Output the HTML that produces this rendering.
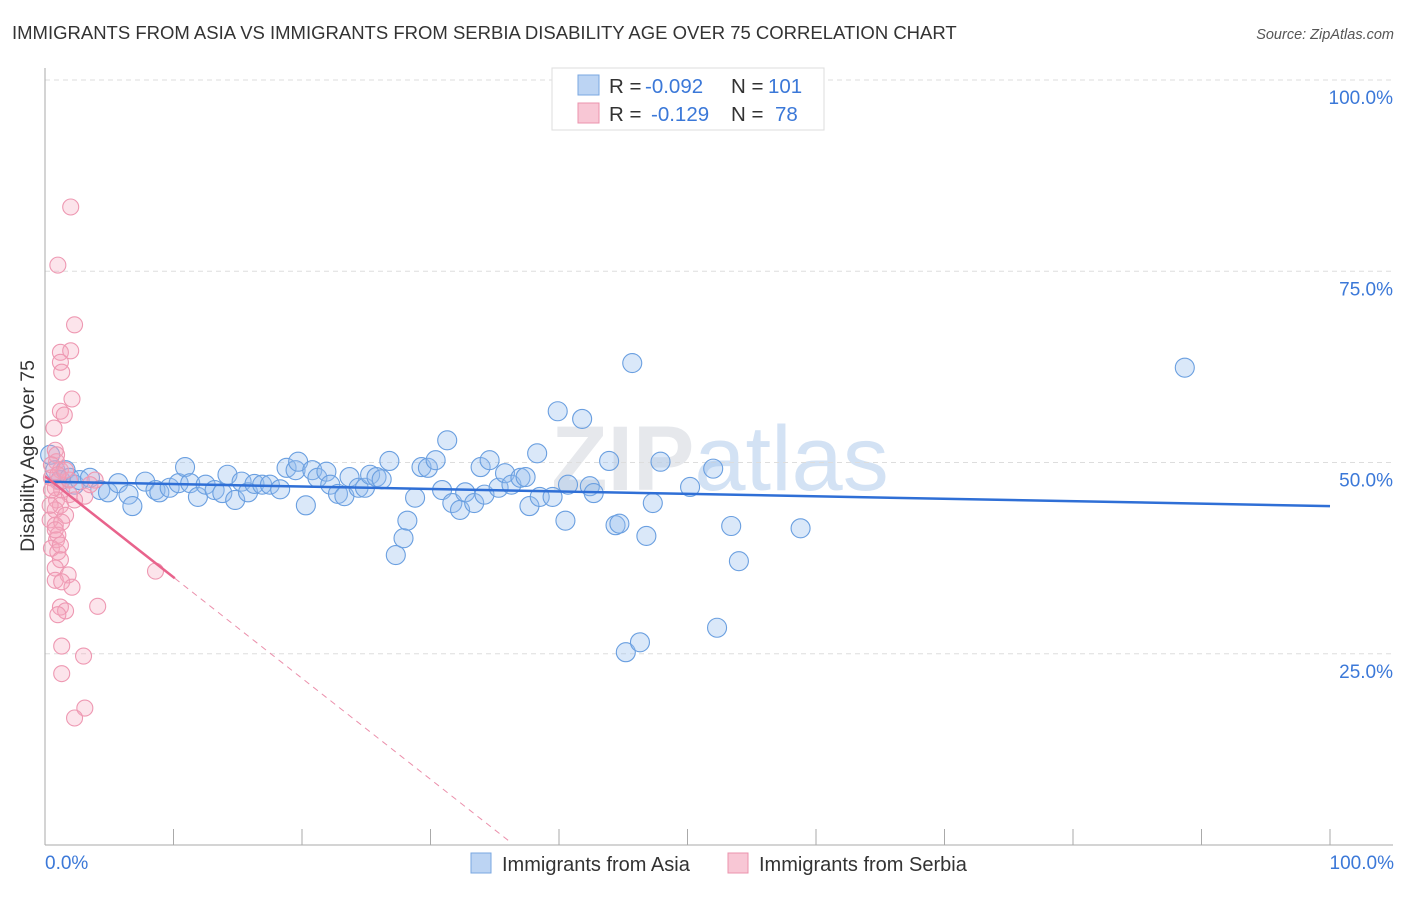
<!DOCTYPE html>
<html><head><meta charset="utf-8"><style>
body{margin:0;background:#fff;font-family:"Liberation Sans",sans-serif}
svg text{font-family:"Liberation Sans",sans-serif}
</style></head><body>
<svg id="chart" width="1406" height="892" xmlns="http://www.w3.org/2000/svg">
<text x="12" y="39" font-size="18.5" fill="#333">IMMIGRANTS FROM ASIA VS IMMIGRANTS FROM SERBIA DISABILITY AGE OVER 75 CORRELATION CHART</text>
<text x="1394" y="39" font-size="14.5" fill="#555" font-style="italic" text-anchor="end">Source: ZipAtlas.com</text>
<text x="720" y="490" font-size="92" fill="#e6e8ec" text-anchor="middle" font-weight="bold">ZIP<tspan fill="#d3e2f4" font-weight="normal">atlas</tspan></text>
<g id="grid"></g><g id="pts"></g><g id="lines"></g>
<text transform="translate(34,456) rotate(-90)" font-size="19.5" fill="#333" text-anchor="middle">Disability Age Over 75</text>
<text x="45" y="869" font-size="19" fill="#3b78d8">0.0%</text>
<text x="1394" y="869" font-size="19" fill="#3b78d8" text-anchor="end">100.0%</text>
<g>
<rect x="471" y="853" width="20" height="20" fill="#bcd4f3" stroke="#7aa7e0"/>
<text x="502" y="871" font-size="20" fill="#333">Immigrants from Asia</text>
<rect x="728" y="853" width="20" height="20" fill="#f8c7d5" stroke="#eb93ad"/>
<text x="759" y="871" font-size="20" fill="#333">Immigrants from Serbia</text>
</g>
<g>
<rect x="552" y="68" width="272" height="62" fill="#fff" stroke="#ddd"/>
<rect x="578" y="75" width="21" height="20" fill="#bcd4f3" stroke="#7aa7e0"/>
<rect x="578" y="103" width="21" height="20" fill="#f8c7d5" stroke="#eb93ad"/>
<text x="609" y="93" font-size="20.5" fill="#333">R = <tspan fill="#3b78d8" x="645">-0.092</tspan><tspan x="731">N = </tspan><tspan fill="#3b78d8" x="768">101</tspan></text>
<text x="609" y="121" font-size="20.5" fill="#333">R = <tspan fill="#3b78d8" x="651">-0.129</tspan><tspan x="731">N = </tspan><tspan fill="#3b78d8" x="775">78</tspan></text>
</g>
</svg>
<script>
const yTicks=[25,50,75,100];
const yTickLabels=["25.0%","50.0%","75.0%","100.0%"];
const xTicks=[0,10,20,30,40,50,60,70,80,90,100];
const asiaX=[0.4,0.8,1.2,1.6,1.9,2.3,2.7,3.5,4.3,4.9,5.7,6.5,6.8,7.8,8.6,8.9,9.7,10.4,10.9,11.3,11.9,12.5,13.2,13.8,14.2,14.8,15.3,15.8,16.3,16.9,17.5,18.3,18.8,19.5,19.7,20.3,20.8,21.2,21.9,22.2,22.8,23.3,23.7,24.4,24.9,25.3,25.8,26.2,26.8,27.3,27.9,28.2,28.8,29.3,29.8,30.4,30.9,31.3,31.7,32.3,32.7,33.4,33.9,34.2,34.6,35.3,35.8,36.3,37.0,37.4,37.7,38.3,38.5,39.5,39.9,40.5,40.7,41.8,42.4,42.7,43.9,44.4,44.7,45.2,45.7,46.3,46.8,47.3,47.9,50.2,52.0,52.3,53.4,54.0,58.8,88.7];
const asiaY=[51.0,49.0,47.7,49.0,48.0,47.1,47.7,48.0,46.4,46.1,47.3,45.8,44.3,47.5,46.4,46.1,46.7,47.3,49.4,47.3,45.5,47.1,46.4,46.0,48.4,45.1,47.5,46.1,47.2,47.1,47.1,46.5,49.3,49.0,50.1,44.4,49.0,48.0,48.8,47.1,45.9,45.6,48.1,46.7,46.7,48.4,48.1,47.8,50.2,37.9,40.1,42.4,45.4,49.4,49.3,50.3,46.4,52.9,44.7,43.8,46.1,44.7,49.4,45.8,50.3,46.7,48.6,47.1,48.0,48.1,44.3,51.2,45.5,45.5,56.7,42.4,47.1,55.7,46.9,46.0,50.2,41.8,42.0,25.2,63.0,26.5,40.4,44.7,50.1,46.8,49.2,28.4,41.7,37.1,41.4,62.4];
const serbiaX=[2.0,1.0,2.3,1.2,2.0,1.2,1.3,2.1,1.2,1.5,0.7,0.8,0.9,1.2,0.5,1.0,0.8,1.3,1.9,3.1,0.9,1.2,0.8,1.6,0.4,0.8,1.3,1.0,0.9,0.5,1.0,1.2,0.8,1.8,0.8,1.3,2.1,8.6,4.1,1.2,1.6,1.0,1.3,3.0,1.3,3.1,2.3,3.9,3.5,1.9,0.9,0.5,1.6,0.4,0.8,1.2,2.3,0.5,1.0];
const serbiaY=[83.4,75.8,68.0,64.4,64.6,63.1,61.8,58.3,56.7,56.2,54.5,51.6,50.1,49.0,48.0,47.5,46.7,46.4,45.8,45.6,45.1,44.4,43.8,43.1,42.5,41.8,42.2,40.5,39.9,38.8,38.3,37.3,36.2,35.3,34.6,34.4,33.7,35.8,31.2,31.1,30.6,30.1,26.0,24.7,22.4,17.9,16.6,47.7,47.1,47.7,51.0,49.7,49.0,44.4,41.2,39.2,45.1,46.4,48.4];
const asiaTrend=[47.5,44.3];
const serbiaTrend=[48.2,0.4];
const serbiaTrendEnd=36.2, serbiaSolidEnd=10.1;
const NS="http://www.w3.org/2000/svg";
const X=v=>45+v*12.85, Y=v=>845-v*7.65;
function mk(t,a,p){const e=document.createElementNS(NS,t);for(const k in a)e.setAttribute(k,a[k]);p.appendChild(e);return e;}
const grid=document.getElementById('grid'),pts=document.getElementById('pts'),lines=document.getElementById('lines');
yTicks.forEach((v,i)=>{
 const l=mk('line',{x1:45,x2:1393,y1:Y(v),y2:Y(v),stroke:'#ddd','stroke-dasharray':'5,4'},grid);
 
 
 const t=mk('text',{x:1393,y:Y(v)+24,'font-size':19,fill:'#3b78d8','text-anchor':'end'},grid);t.textContent=yTickLabels[i];
 
 
});
const ax=mk('line',{x1:45,x2:45,y1:68,y2:845,stroke:'#aaa'},grid);


const bx=mk('line',{x1:45,x2:1393,y1:845,y2:845,stroke:'#aaa'},grid);


xTicks.forEach(v=>{const t=mk('line',{x1:X(v),x2:X(v),y1:829,y2:845,stroke:'#aaa'},grid);
 
 });
asiaX.forEach((v,i)=>{const c=mk('circle',{cx:X(v),cy:Y(asiaY[i]),r:9.5,fill:'rgba(150,188,238,0.35)',stroke:'#6a9fe0','stroke-width':1.1},pts);
 
 });
serbiaX.forEach((v,i)=>{const c=mk('circle',{cx:X(v),cy:Y(serbiaY[i]),r:8,fill:'rgba(245,165,190,0.3)',stroke:'#ee98b2','stroke-width':1.1},pts);
 
 });
const bl=mk('line',{x1:X(0),y1:Y(asiaTrend[0]),x2:X(100),y2:Y(asiaTrend[1]),stroke:'#2f6fd6','stroke-width':2.5},lines);


const sy=x=>serbiaTrend[0]+(serbiaTrend[1]-serbiaTrend[0])*x/serbiaTrendEnd;
const ps=mk('line',{x1:X(0),y1:Y(sy(0)),x2:X(serbiaSolidEnd),y2:Y(sy(serbiaSolidEnd)),stroke:'#e8638c','stroke-width':2.5},lines);


const pd=mk('line',{x1:X(serbiaSolidEnd),y1:Y(sy(serbiaSolidEnd)),x2:X(serbiaTrendEnd),y2:Y(sy(serbiaTrendEnd)),stroke:'#eb8fab','stroke-width':1,'stroke-dasharray':'6,5'},lines);


</script>
</body></html>
